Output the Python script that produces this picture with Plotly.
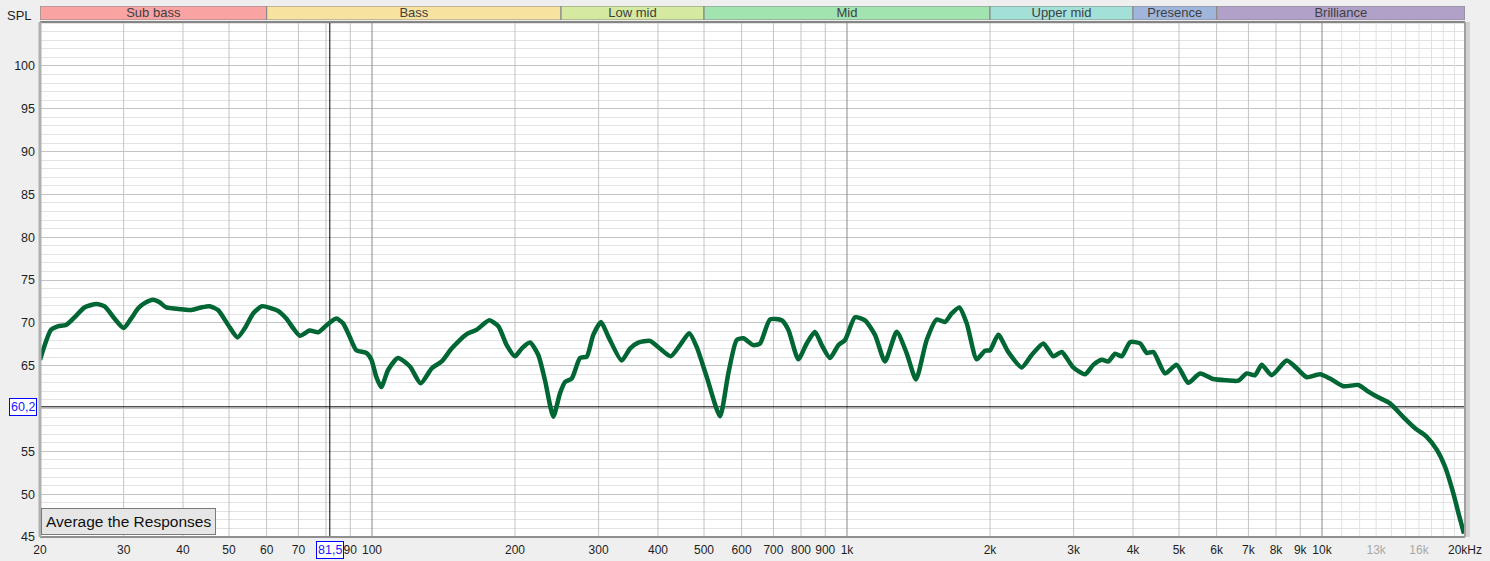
import math
import plotly.graph_objects as go

# ---------------- data ----------------
freq_hz = [20, 21.1, 21.8, 22.7, 23.7, 24.8, 26.3, 27.4, 28.7, 30.0, 31.1, 32.2, 33.2, 34.6, 35.7, 36.9,
           39.7, 41.7, 43.7, 45.5, 47.4, 49.8, 52.1, 54.0, 56.2, 58.7, 61.4, 63.4, 66.0, 68.2, 70.5,
           73.9, 77.0, 80.1, 84.1, 86.9, 89.7, 92.7, 97.3, 99.7, 102.1, 104.6, 108.1, 113.4, 120.2,
           126.6, 133.6, 140.2, 147.1, 158.3, 166.1, 176.6, 184.5, 192.1, 200, 206.6, 215.1, 223.9,
           231.3, 240.8, 248.8, 254.9, 263.3, 274.1, 283.1, 292.3, 303.4, 314.4, 335.4, 349.2, 363.5,
           384.7, 403.9, 425.4, 445.0, 465.5, 482.5, 506.5, 540.3, 562.5, 585.9, 605.0, 635.1, 656.1,
           688.6, 728.7, 752.4, 789.8, 822.7, 856.4, 884.7, 921.0, 958.8, 990.5, 1039.6, 1091.2,
           1145.3, 1202.2, 1272.3, 1335.5, 1397, 1471.4, 1544.4, 1607.8, 1661.2, 1723.6, 1786.6,
           1875.2, 1951.9, 2000, 2082, 2185, 2332, 2448, 2590, 2718, 2832, 2994, 3170, 3300, 3438,
           3550, 3667, 3788, 3944, 4140, 4276, 4416, 4674, 4944, 5230, 5536, 5904, 6300, 6666, 6942,
           7228, 7466, 7836, 8426, 8846, 9286, 9904, 10396, 11090, 11926, 12422, 13038, 13904, 14832,
           15700, 16612, 17440, 18156, 18902, 19458, 19904]
spl_db = [65.7, 69.2, 69.6, 69.75, 70.7, 71.8, 72.2, 71.9, 70.5, 69.4, 70.5, 71.7, 72.3, 72.7, 72.4, 71.8,
          71.6, 71.5, 71.8, 71.95, 71.5, 69.75, 68.3, 69.4, 71.1, 71.95, 71.7, 71.4, 70.5, 69.4, 68.5,
          69.1, 68.9, 69.7, 70.5, 69.95, 68.4, 66.8, 66.5, 65.7, 63.7, 62.5, 64.5, 65.9, 64.9,
          62.95, 64.7, 65.5, 67.0, 68.7, 69.2, 70.3, 69.6, 67.4, 66.1, 67.0, 67.7, 66.25,
          63.3, 59.05, 61.8, 63.1, 63.5, 65.9, 66.05, 68.6, 70.1, 68.4, 65.6, 67.0, 67.7,
          67.9, 67.0, 66.1, 67.4, 68.8, 67.2, 63.7, 59.1, 64.1, 68.0, 68.2, 67.4, 67.6,
          70.4, 70.3, 69.2, 65.75, 67.6, 68.95, 67.4, 65.9, 67.4, 68.0, 70.65, 70.3,
          68.6, 65.5, 68.95, 66.45, 63.4, 68.0, 70.4, 70.1, 71.1, 71.8, 69.95,
          65.75, 66.75, 66.8, 68.6, 66.6, 64.8, 66.25, 67.6, 66.1, 66.6, 64.8, 64.0, 65.1, 65.7,
          65.5, 66.4, 66.1, 67.75, 67.6, 66.5, 66.6, 64.1, 65.1, 63.0, 64.1, 63.45, 63.3, 63.25, 64.1,
          63.9, 65.1, 63.9, 65.6, 64.7, 63.65, 64.0, 63.5, 62.6, 62.75, 62.1, 61.4, 60.6, 59.0,
          57.7, 56.7, 55.2, 53.2, 50.1, 47.4, 45.4]

band_names = ["Sub bass", "Bass", "Low mid", "Mid", "Upper mid", "Presence", "Brilliance"]
band_edges = [20, 60, 250, 500, 2000, 4000, 6000, 20000]
band_colors = ["#f9a3a3", "#f8e2a0", "#d5eaa0", "#a2e4b0", "#a2e0d8", "#a0b5dc", "#b1a0c8"]

# 80 Hz and 60 dB labels are hidden behind the cursor read-outs in the original
x_tick_vals = [20, 30, 40, 50, 60, 70, 80, 90, 100, 200, 300, 400, 500, 600, 700, 800, 900,
               1000, 2000, 3000, 4000, 5000, 6000, 7000, 8000, 9000, 10000, 13000, 16000, 20000]
x_tick_text = ["20", "30", "40", "50", "60", "70", "", "90", "100", "200", "300", "400", "500",
               "600", "700", "800", "900", "1k", "2k", "3k", "4k", "5k", "6k", "7k", "8k", "9k",
               "10k", "<span style='color:#a8a8a8'>13k</span>",
               "<span style='color:#a8a8a8'>16k</span>", "20kHz"]
y_tick_vals = [45, 50, 55, 60, 65, 70, 75, 80, 85, 90, 95, 100]
y_tick_text = ["45", "50", "55", "", "65", "70", "75", "80", "85", "90", "95", "100"]

grid_std = [30, 40, 50, 60, 70, 80, 90, 200, 300, 400, 500, 600, 700, 800, 900,
            2000, 3000, 4000, 5000, 6000, 7000, 8000, 9000]
grid_decade = [100, 1000, 10000]
grid_light = [11000, 12000, 13000, 14000, 15000, 16000, 17000, 18000, 19000]

cursor_freq = 81.5
cursor_spl = 60.2

X_MIN, X_MAX = 20, 20000
Y_MIN, Y_MAX = 45, 105.13

FONT = "Liberation Sans, Arial, sans-serif"

fig = go.Figure()


def vlines(freqs, color, width):
    xs, ys = [], []
    for f in freqs:
        xs += [f, f, None]
        ys += [Y_MIN, Y_MAX, None]
    fig.add_trace(go.Scatter(x=xs, y=ys, mode="lines", line=dict(color=color, width=width),
                             hoverinfo="skip", showlegend=False))


vlines(grid_light, "#e2e2e2", 1)
vlines(grid_std, "#c4c4c4", 1)
vlines(grid_decade, "#8a8a8a", 1)

# cursor lines
fig.add_trace(go.Scatter(x=[X_MIN, X_MAX], y=[cursor_spl, cursor_spl], mode="lines",
                         line=dict(color="#000000", width=1), hoverinfo="skip", showlegend=False))
fig.add_trace(go.Scatter(x=[cursor_freq, cursor_freq], y=[Y_MIN, Y_MAX], mode="lines",
                         line=dict(color="#000000", width=1), hoverinfo="skip", showlegend=False))

# response curve
fig.add_trace(go.Scatter(x=freq_hz, y=spl_db, mode="lines",
                         line=dict(color="#006633", width=4.5, shape="spline", smoothing=0.6),
                         hoverinfo="skip", showlegend=False))

# band strip
for name, f0, f1, col in zip(band_names, band_edges[:-1], band_edges[1:], band_colors):
    fig.add_trace(go.Scatter(x=[f0, f1, f1, f0, f0], y=[0, 0, 1, 1, 0], mode="lines",
                             fill="toself", fillcolor=col, line=dict(color="#8a8a8a", width=1.2),
                             xaxis="x2", yaxis="y2", hoverinfo="skip", showlegend=False))
    fig.add_trace(go.Scatter(x=[math.sqrt(f0 * f1)], y=[0.45], mode="text", text=[name],
                             textfont=dict(family=FONT, size=13, color="#404040"),
                             xaxis="x2", yaxis="y2", hoverinfo="skip", showlegend=False))

H_TOTAL = 561
M_T, M_B = 6, 24
inner = H_TOTAL - M_T - M_B
main_top = (inner - (22 - M_T)) / inner
band_bot = (inner - (20 - M_T)) / inner

fig.update_layout(
    width=1490, height=561,
    margin=dict(l=40, r=25, t=M_T, b=M_B, autoexpand=False),
    paper_bgcolor="#efefef",
    plot_bgcolor="#ffffff",
    hovermode=False,
    font=dict(family=FONT, size=12, color="#1e1e1e"),
    xaxis=dict(type="log", range=[math.log10(X_MIN), math.log10(X_MAX)], domain=[0, 1],
               tickmode="array", tickvals=x_tick_vals, ticktext=x_tick_text,
               showgrid=False, zeroline=False, showline=False, ticks="", automargin=False,
               ticklabelstandoff=4, fixedrange=True,
               tickfont=dict(family=FONT, size=12, color="#1e1e1e"), anchor="y"),
    yaxis=dict(range=[Y_MIN, Y_MAX], domain=[0, main_top], tickmode="array",
               tickvals=y_tick_vals, ticktext=y_tick_text,
               showgrid=True, gridcolor="#c4c4c4", gridwidth=1, ticklabelstandoff=4,
               zeroline=False, showline=False, ticks="", automargin=False, fixedrange=True,
               minor=dict(tickmode="linear", tick0=45, dtick=1, showgrid=True,
                          gridcolor="#e3e3e3", gridwidth=1, ticks=""),
               tickfont=dict(family=FONT, size=12.5, color="#1e1e1e"), anchor="x"),
    xaxis2=dict(type="log", range=[math.log10(X_MIN), math.log10(X_MAX)], domain=[0, 1],
                visible=False, anchor="y2", fixedrange=True, automargin=False),
    yaxis2=dict(range=[0, 1], domain=[band_bot, 1], visible=False, anchor="x2",
                fixedrange=True, automargin=False),
    showlegend=False,
)

# plot frame + shadow
fig.add_shape(type="rect", xref="paper", yref="y domain", xsizemode="pixel", xanchor=1,
              x0=0, x1=5, y0=0, y1=1, line=dict(width=0), fillcolor="#d2d2d2", layer="below")
fig.add_shape(type="line", xref="x domain", yref="y domain", x0=0, x1=1, y0=1, y1=1,
              line=dict(color="#858585", width=2))
fig.add_shape(type="line", xref="x domain", yref="y domain", x0=0, x1=1, y0=0, y1=0,
              line=dict(color="#8f8f8f", width=2))
fig.add_shape(type="line", xref="x domain", yref="y domain", x0=0, x1=0, y0=0, y1=1,
              line=dict(color="#b0b0b0", width=3))
fig.add_shape(type="line", xref="x domain", yref="y domain", x0=1, x1=1, y0=0, y1=1,
              line=dict(color="#a0a0a0", width=2))

# SPL label
fig.add_annotation(xref="paper", yref="paper", x=0, y=1, xanchor="right", yanchor="top",
                   xshift=-6, yshift=0, text="SPL", showarrow=False,
                   font=dict(family=FONT, size=13, color="#1e1e1e"))

# cursor value labels
fig.add_annotation(xref="paper", yref="y", x=0, y=cursor_spl, xanchor="right", yanchor="middle",
                   xshift=-3, text="60,2", showarrow=False, bgcolor="#ffffff",
                   bordercolor="#0000ff", borderwidth=1, borderpad=1,
                   font=dict(family=FONT, size=12.5, color="#2020ff"))
fig.add_annotation(xref="x", yref="paper", x=math.log10(cursor_freq), y=0, xanchor="center",
                   yanchor="top", yshift=-4, text="81,5", showarrow=False, bgcolor="#ffffff",
                   bordercolor="#0000ff", borderwidth=1, borderpad=1,
                   font=dict(family=FONT, size=12.5, color="#2020ff"))

# button
fig.add_annotation(xref="paper", yref="paper", x=0, y=0, xanchor="left", yanchor="bottom",
                   xshift=1, yshift=2, text="Average the Responses", showarrow=False,
                   bgcolor="#e6e6e6", bordercolor="#7a7a7a", borderwidth=1, borderpad=4,
                   font=dict(family=FONT, size=15.5, color="#111111"))

fig.write_html("out.html", config={"displayModeBar": False},
               post_script="document.body.style.margin='0';document.body.style.overflow='hidden';")
